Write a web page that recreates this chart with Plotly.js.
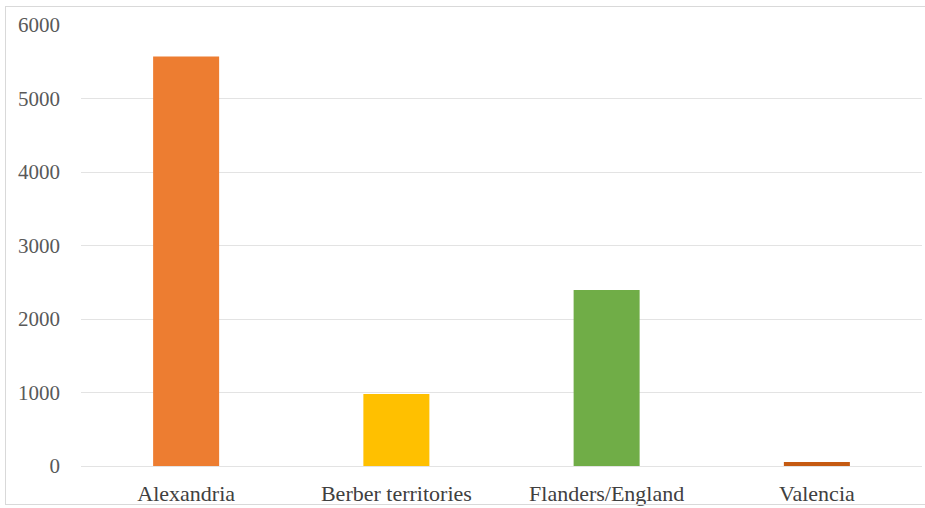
<!DOCTYPE html>
<html>
<head>
<meta charset="utf-8">
<script src="https://cdn.plot.ly/plotly-3.0.1.min.js"></script>
<style>
  html, body { margin: 0; padding: 0; background: #fff; }
  #wrap { position: relative; width: 925px; height: 508px; }
  #chart { width: 925px; height: 508px; }
  #frame { position: absolute; left: 5px; top: 6px; width: 925px; height: 499px;
           border: 1px solid #d9d9d9; box-sizing: border-box; pointer-events: none; }
</style>
</head>
<body>
<div id="wrap">
  <div id="chart"></div>
  <div id="frame"></div>
</div>
<script>
// Destinations and their totals
const destinations = ["Alexandria", "Berber territories", "Flanders/England", "Valencia"];
const totals = [5570, 980, 2395, 55];
const barColors = ["#ED7D31", "#FFC000", "#70AD47", "#C55A11"];
const yTicks = [0, 1000, 2000, 3000, 4000, 5000, 6000];

const serif = "'Liberation Serif', 'DejaVu Serif', serif";

const trace = {
  type: "bar",
  x: destinations,
  y: totals,
  marker: { color: barColors, line: { width: 0 } },
  hoverinfo: "x+y"
};

const layout = {
  width: 925,
  height: 508,
  margin: { l: 81, r: 3, t: 25, b: 42 },
  paper_bgcolor: "#ffffff",
  plot_bgcolor: "#ffffff",
  showlegend: false,
  bargap: 0.686,
  font: { family: serif, color: "#404040" },
  xaxis: {
    type: "category",
    showgrid: false,
    zeroline: false,
    showline: false,
    ticks: "",
    ticklabelstandoff: 12,
    tickfont: { family: serif, size: 22, color: "#404040" }
  },
  yaxis: {
    range: [0, 6000],
    tickvals: yTicks,
    ticktext: yTicks.map(String),
    showgrid: true,
    gridcolor: "#e3e3e3",
    gridwidth: 1,
    zeroline: true,
    zerolinecolor: "#e3e3e3",
    zerolinewidth: 1,
    showline: false,
    ticks: "",
    ticklabelstandoff: 20,
    tickfont: { family: serif, size: 21, color: "#595959" }
  }
};

Plotly.newPlot("chart", [trace], layout, { displayModeBar: false, staticPlot: true });
</script>
</body>
</html>
